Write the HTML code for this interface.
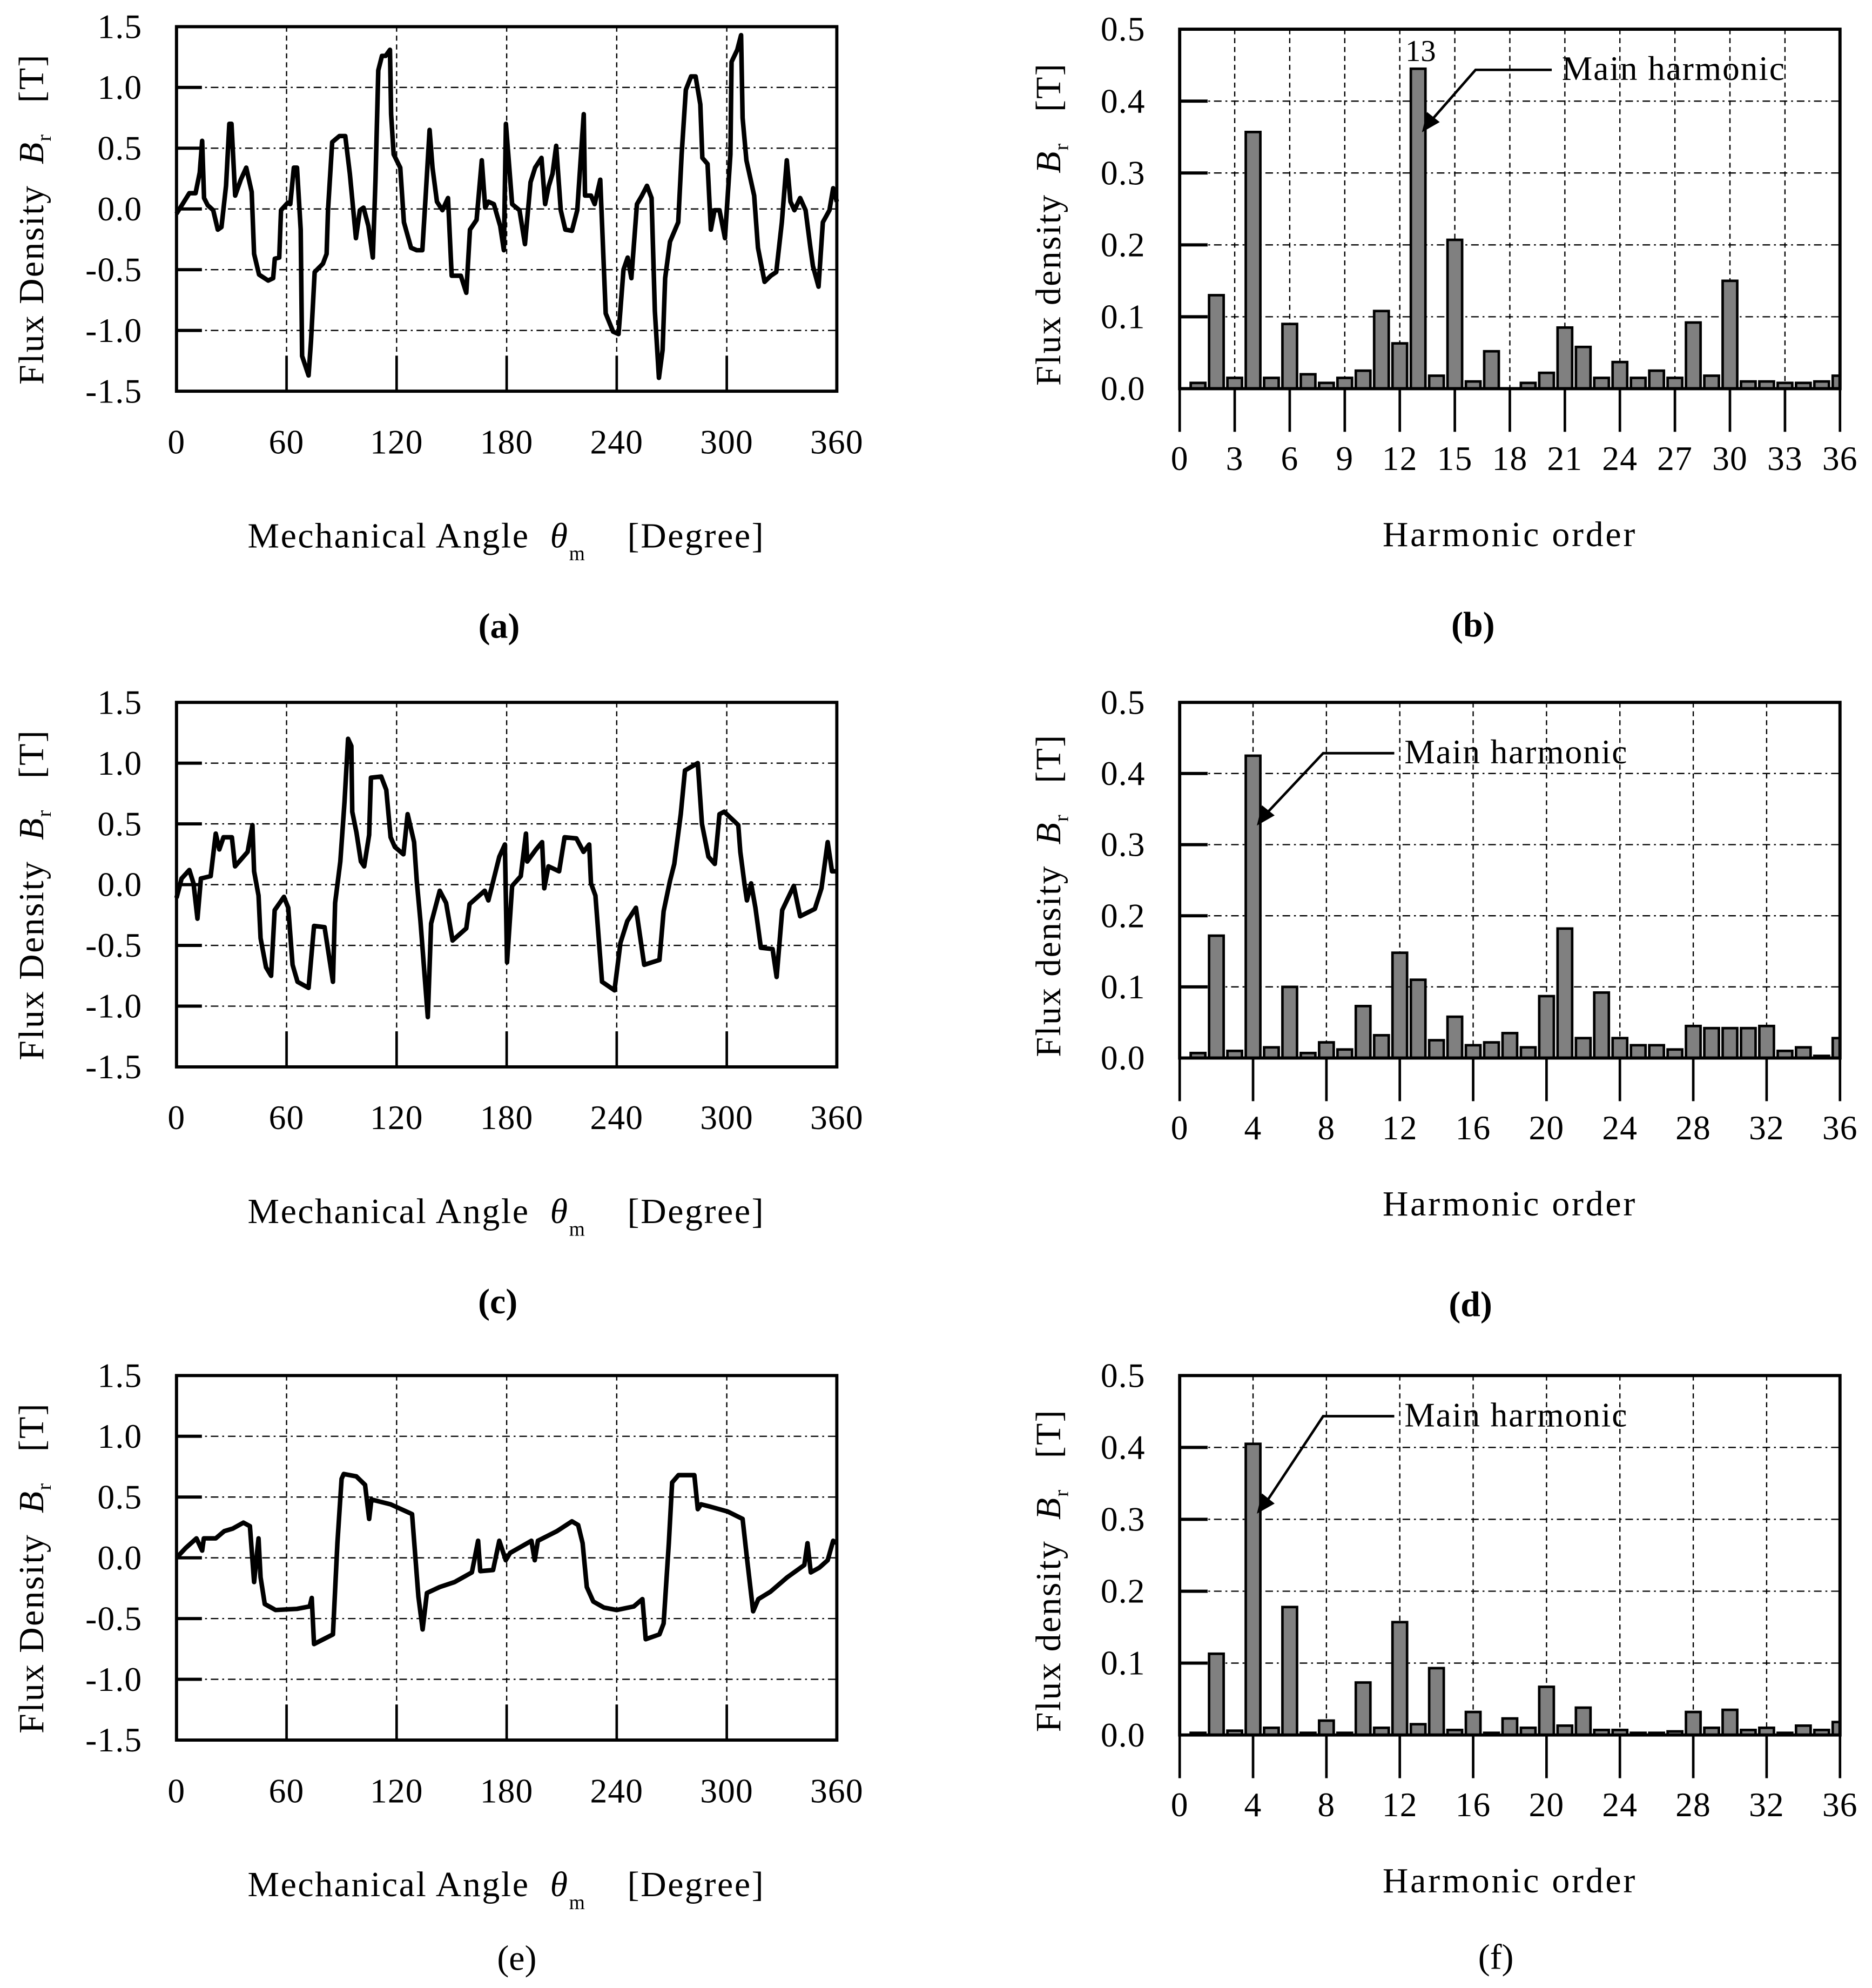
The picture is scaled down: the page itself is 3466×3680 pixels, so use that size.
<!DOCTYPE html>
<html><head><meta charset="utf-8"><style>
html,body{margin:0;padding:0;background:#fff;}
svg{display:block;}
text{font-family:"Liberation Serif",serif;fill:#000;}
</style></head><body>
<svg id="fig" width="3466" height="3680" viewBox="0 0 1474.2 1565.2" preserveAspectRatio="none" xmlns="http://www.w3.org/2000/svg"></svg>
<script>
// ---- waveform data (angle deg, flux T) ----
const angA=[0,7,10.4,12.7,14,15,17,20,22.5,24.5,27,28.8,30,32,35,38,41,42.3,45,50,52.7,53.6,56,57,60.6,62,64,65.7,67.7,68.5,72,73.3,75.3,79.8,81.8,82.6,84.9,88.8,92,94.5,97.8,100,102,104.6,107,108.5,110,112,114,116.4,117,118.4,122,124,127.9,131,134,136,138,139.6,142,145,148,150,155,158,160,163.6,166.4,168.3,170,173,176.5,178.5,179.6,183,187,190,193,195.5,199,201,203,205,207,209.5,212,215.6,218.5,222,222.7,226,228,231,234,238,241,243.7,246,248,251,253.7,256.5,259,260.8,263,265,266.4,269,273.5,275.4,277.7,280.5,283,285.6,286.7,289.5,291.3,293.3,296,299,302,302.6,305.7,307.8,308.6,310.7,314.9,317,320.6,324,327,330,332.7,334.7,336.9,340,343,345.6,347,350,352.4,356,358,360];
const valA=[-0.04,0.13,0.13,0.3,0.56,0.09,0.03,-0.01,-0.17,-0.15,0.19,0.7,0.7,0.11,0.24,0.34,0.14,-0.37,-0.54,-0.59,-0.57,-0.41,-0.4,-0.01,0.05,0.04,0.34,0.34,-0.17,-1.21,-1.37,-1.09,-0.52,-0.45,-0.37,-0.01,0.55,0.6,0.6,0.29,-0.24,-0.01,0.01,-0.14,-0.4,0.24,1.14,1.26,1.26,1.31,0.78,0.45,0.34,-0.11,-0.32,-0.34,-0.34,0.14,0.65,0.34,0.06,-0.01,0.09,-0.55,-0.55,-0.69,-0.17,-0.09,0.4,0.01,0.06,0.04,-0.14,-0.34,0.7,0.04,-0.01,-0.29,0.22,0.34,0.42,0.04,0.19,0.29,0.52,-0.01,-0.17,-0.18,-0.01,0.78,0.11,0.11,0.04,0.24,-0.86,-1.01,-1.03,-0.5,-0.4,-0.57,0.04,0.11,0.19,0.09,-0.84,-1.39,-1.16,-0.57,-0.27,-0.11,0.45,0.98,1.09,1.09,0.86,0.42,0.37,-0.17,-0.01,-0.01,-0.24,0.45,1.21,1.31,1.43,0.75,0.4,0.11,-0.32,-0.6,-0.55,-0.52,-0.11,0.4,0.06,-0.01,0.09,-0.01,-0.32,-0.47,-0.64,-0.11,-0.01,0.17,0.06];
const angC=[0,2.8,7,9.3,11.4,13.3,18.6,21.4,23.3,25.6,30.2,31.9,38.8,41.4,42.3,44.7,45.8,48.8,51.6,53.5,58.6,60.9,63.3,66,72,75,80.7,85.3,86.5,89.3,91.6,93.5,95.3,95.8,98.1,100.5,102.3,105,106,111.6,114.4,116.7,119,123.7,126,129.5,131,133,137,138.8,143.5,147,150.5,158,159.8,168,170,176,179,180.2,183,187.7,190.5,191.2,196,199.3,200.5,202.8,208.6,211.6,218,221.9,225,226,228.4,232,238.8,242,245.8,250.5,255,263.3,265.6,269,271.4,274.9,277.2,284.2,286.5,290,293.5,296,298.6,306.3,307.4,309.8,311,313.3,315.6,318.6,325,327.2,330.2,336.5,340,348,351.6,355,357.4,360];
const valC=[-0.11,0.05,0.12,0.01,-0.28,0.05,0.07,0.42,0.29,0.39,0.39,0.15,0.27,0.49,0.11,-0.09,-0.44,-0.68,-0.75,-0.21,-0.1,-0.19,-0.66,-0.8,-0.85,-0.34,-0.35,-0.8,-0.15,0.19,0.68,1.2,1.14,0.6,0.43,0.19,0.15,0.41,0.88,0.89,0.78,0.39,0.31,0.25,0.58,0.35,0.03,-0.3,-1.09,-0.32,-0.05,-0.15,-0.46,-0.36,-0.16,-0.05,-0.13,0.23,0.33,-0.64,-0.01,0.07,0.42,0.19,0.29,0.35,-0.03,0.15,0.11,0.39,0.38,0.27,0.33,0.01,-0.09,-0.8,-0.87,-0.48,-0.3,-0.19,-0.66,-0.62,-0.22,0.03,0.17,0.58,0.94,1.0,0.5,0.23,0.17,0.58,0.6,0.49,0.27,-0.01,-0.13,0.01,-0.19,-0.52,-0.53,-0.76,-0.21,-0.01,-0.26,-0.2,-0.03,0.35,0.11,0.11];
const angE=[0,5,10.9,14,14.9,21.4,26,30.7,36.5,40,42.3,44.7,45.8,48.1,54,65.6,72.6,73.7,75,85.3,87.7,90,91.2,98,102.8,105,106.3,116.7,128.4,131.9,134.2,136.5,143.5,151.6,161,164.4,165.6,172.6,176,179.5,181.9,193.5,195.3,197,207.4,215.6,219,221.4,223.7,227.2,233,240,249.3,254,255.8,263.3,265.6,268.4,270.2,273.7,282.3,284.2,286,291.2,300.5,308.6,311,314.4,317.2,323.7,333,342.3,344,345.8,350.5,355,358,360];
const valE=[0,0.08,0.16,0.06,0.16,0.16,0.22,0.24,0.29,0.26,-0.2,0.16,-0.16,-0.38,-0.43,-0.42,-0.4,-0.33,-0.71,-0.63,0.12,0.65,0.69,0.67,0.6,0.32,0.48,0.44,0.36,-0.32,-0.59,-0.29,-0.24,-0.2,-0.12,0.14,-0.11,-0.1,0.14,-0.02,0.04,0.14,-0.02,0.14,0.22,0.3,0.27,0.12,-0.24,-0.36,-0.41,-0.43,-0.4,-0.34,-0.67,-0.63,-0.54,0.12,0.62,0.68,0.68,0.4,0.44,0.42,0.38,0.32,0,-0.44,-0.34,-0.28,-0.16,-0.06,0.12,-0.12,-0.08,-0.02,0.14,0.12];
const angTicks=[0,60,120,180,240,300,360];
const fluxTicks=[1.5,1.0,0.5,0.0,-0.5,-1.0,-1.5];
// ---- harmonic spectra (order 1..36) ----
const harmB=[0.008,0.13,0.015,0.357,0.015,0.09,0.02,0.008,0.015,0.025,0.108,0.063,0.445,0.018,0.207,0.01,0.052,0,0.008,0.022,0.085,0.058,0.015,0.037,0.015,0.025,0.015,0.092,0.018,0.15,0.01,0.01,0.008,0.008,0.01,0.018];
const harmD=[0.007,0.172,0.01,0.425,0.015,0.1,0.007,0.022,0.012,0.073,0.032,0.148,0.11,0.025,0.058,0.018,0.022,0.035,0.015,0.087,0.182,0.028,0.092,0.028,0.018,0.018,0.012,0.045,0.042,0.042,0.042,0.045,0.01,0.015,0.003,0.028];
const harmF=[0.003,0.113,0.006,0.405,0.01,0.178,0.003,0.02,0.003,0.073,0.01,0.157,0.015,0.093,0.007,0.032,0.003,0.023,0.01,0.067,0.013,0.038,0.007,0.007,0.003,0.003,0.005,0.032,0.01,0.035,0.007,0.01,0.003,0.013,0.007,0.018];
const ticksB=[0,3,6,9,12,15,18,21,24,27,30,33,36];
const ticksD=[0,4,8,12,16,20,24,28,32,36];
const specTicks=[0.5,0.4,0.3,0.2,0.1,0.0];

const NS="http://www.w3.org/2000/svg";
const svg=document.getElementById('fig');
function mk(tag,attrs,parent){const e=document.createElementNS(NS,tag);for(const k in attrs)e.setAttribute(k,attrs[k]);(parent||svg).appendChild(e);return e;}
function txt(s,x,y,size,anchor,parent){const t=mk('text',{x:x,y:y,'font-size':size,'text-anchor':anchor||'middle'},parent);t.textContent=s;return t;}

function linePanel(id,top,ang,val,cap,capX,capOff){
  const g=mk('g',{});
  
  
  const x0=139,x1=659,bot=top+287;
  const X=a=>x0+(a/360)*(x1-x0), Y=v=>top+(1.5-v)/3*(bot-top);
  fluxTicks.forEach(v=>{if(v>-1.5&&v<1.5){const l=mk('line',{x1:x0,x2:x1,y1:Y(v),y2:Y(v),stroke:'#000','stroke-width':1,'stroke-dasharray':'6 3 1.5 3'},g);
    mk('line',{x1:x0,x2:x0+20,y1:Y(v),y2:Y(v),stroke:'#000','stroke-width':2.5},g);}
    const t=txt(v.toFixed(1),112,Y(v)+9,27,'end',g);t.setAttribute('letter-spacing','0.5');});
  angTicks.forEach(a=>{if(a>0&&a<360){const l=mk('line',{x1:X(a),x2:X(a),y1:top,y2:bot,stroke:'#000','stroke-width':1,'stroke-dasharray':'4 3'},g);
    mk('line',{x1:X(a),x2:X(a),y1:bot,y2:bot-28,stroke:'#000','stroke-width':2},g);}
    const t=txt(String(a),X(a),bot+49,27,'middle',g);t.setAttribute('letter-spacing','0.5');});
  const frame=mk('rect',{x:x0,y:top,width:x1-x0,height:bot-top,fill:'none',stroke:'#000','stroke-width':2.5},g);
  
  const pts=ang.map((a,i)=>X(a).toFixed(1)+','+Y(val[i]).toFixed(1)).join(' ');
  const pl=mk('polyline',{points:pts,fill:'none',stroke:'#000','stroke-width':3.6,'stroke-linejoin':'round'},g);
  
  const yc=(top+bot)/2+8;
  const yt=mk('text',{x:0,y:0,'font-size':28,'letter-spacing':'1','text-anchor':'middle',transform:`translate(34,${yc}) rotate(-90)`},g);
  
  yt.innerHTML='Flux Density&#160;&#160;<tspan font-style="italic">B</tspan><tspan font-size="16" dy="6">r</tspan><tspan dy="-6">&#160;&#160;&#160;[T]</tspan>';
  const xt=mk('text',{x:195,y:bot+123,'font-size':28,'letter-spacing':'1.1','text-anchor':'start'},g);
  
  xt.innerHTML='Mechanical Angle&#160;&#160;<tspan font-style="italic">θ</tspan><tspan font-size="16" dy="10">m</tspan><tspan dy="-10">&#160;&#160;&#160;&#160;[Degree]</tspan>';
  const c=txt(cap,capX,bot+capOff,28,'middle',g);
  if(cap==='(a)'||cap==='(c)')c.setAttribute('font-weight','bold');
}

function barPanel(id,top,bot,vals,ticks,cap,capX,capBold,capOff,ann){
  const g=mk('g',{});
  
  
  const x0=929,x1=1449;
  const X=n=>x0+(n/36)*(x1-x0), Y=v=>bot-(v/0.5)*(bot-top);
  specTicks.forEach(v=>{if(v>0&&v<0.5){const l=mk('line',{x1:x0,x2:x1,y1:Y(v),y2:Y(v),stroke:'#000','stroke-width':1,'stroke-dasharray':'6 3 1.5 3'},g);
    mk('line',{x1:x0,x2:x0+22,y1:Y(v),y2:Y(v),stroke:'#000','stroke-width':2.5},g);}
    const t=txt(v.toFixed(1),902,Y(v)+9,27,'end',g);t.setAttribute('letter-spacing','0.5');});
  ticks.forEach(n=>{if(n>0&&n<36){const l=mk('line',{x1:X(n),x2:X(n),y1:top,y2:bot,stroke:'#000','stroke-width':1,'stroke-dasharray':'4 3'},g);}
    mk('line',{x1:X(n),x2:X(n),y1:bot,y2:bot+34,stroke:'#000','stroke-width':2},g);
    const t=txt(String(n),X(n),bot+64,27,'middle',g);t.setAttribute('letter-spacing','0.5');});
  vals.forEach((v,i)=>{const n=i+1;const h=Math.max(v/0.5*(bot-top),0.01);
    const w=(n===36)?5.5:11.5;
    const r=mk('rect',{x:X(n)-5.75,y:bot-h,width:w,height:h,fill:'#808080',stroke:'#000','stroke-width':2},g);
    });
  const frame=mk('rect',{x:x0,y:top,width:x1-x0,height:bot-top,fill:'none',stroke:'#000','stroke-width':2.5},g);
  
  const bx=X(ann.n), by=Y(vals[ann.n-1]);
  const ay=by+ann.dy, ax=bx+3;
  const path=mk('polyline',{points:`${ann.lx2},${ann.ly} ${ann.lx1},${ann.ly} ${ax+8},${ay-10}`,fill:'none',stroke:'#000','stroke-width':2},g);
  
  const ah=mk('polygon',{points:`${ax},${ay} ${ax+4},${ay-16} ${ax+14},${ay-8}`,fill:'#000'},g);
  
  const at=txt('Main harmonic',ann.lx2+8,ann.ly+8,27,'start',g);at.setAttribute('letter-spacing','0.8');
  if(ann.num){const nt=txt(String(ann.n),bx+2,by-6,24,'middle',g);}
  const yc=(top+bot)/2+12;
  const yt=mk('text',{x:0,y:0,'font-size':28,'letter-spacing':'1','text-anchor':'middle',transform:`translate(835,${yc}) rotate(-90)`},g);
  
  yt.innerHTML='Flux density&#160;&#160;<tspan font-style="italic">B</tspan><tspan font-size="16" dy="6">r</tspan><tspan dy="-6">&#160;&#160;&#160;[T]</tspan>';
  const xt=txt('Harmonic order',1189,bot+124,28,'middle',g);xt.setAttribute('letter-spacing','1.6');
  const c=txt(cap,capX,bot+capOff,28,'middle',g);
  if(capBold)c.setAttribute('font-weight','bold');
}

linePanel('a',21,angA,valA,'(a)',393,194);
linePanel('c',553,angC,valC,'(c)',392,194);
linePanel('e',1083,angE,valE,'(e)',407,181);
barPanel('b',23,306,harmB,ticksB,'(b)',1160,true,195,{n:13,dy:50,lx1:1162,lx2:1222,ly:55,num:true});
barPanel('d',553,833,harmD,ticksD,'(d)',1158,true,203,{n:4,dy:55,lx1:1042,lx2:1098,ly:593,num:false});
barPanel('f',1083,1366,harmF,ticksD,'(f)',1178,false,184,{n:4,dy:55,lx1:1042,lx2:1098,ly:1115,num:false});
</script>
</body></html>
